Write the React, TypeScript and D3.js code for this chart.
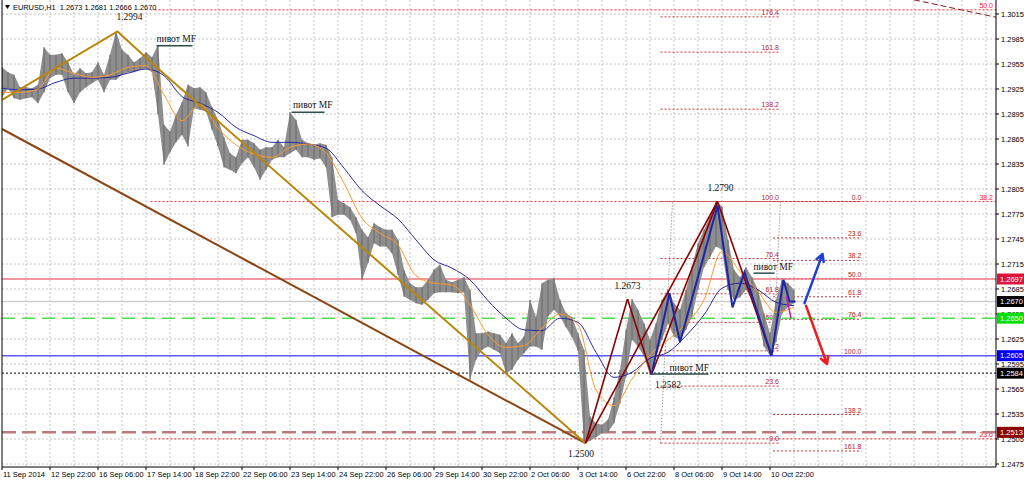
import React from 'react';
import * as d3 from 'd3';

// ---------- DATA ----------
const SAMPLE_STEP = 4; // H1 bars per sample
const MA_STEP = 12; // H1 bars per MA sample
const TIME_TICK_STEP = 32; // H1 bars between time labels

const barHigh = [
  1.2951, 1.2945, 1.2942, 1.2927, 1.2927, 1.2926, 1.293, 1.2975, 1.2966, 1.2966,
  1.2968, 1.2957, 1.2942, 1.295, 1.2944, 1.2945, 1.2957, 1.2942, 1.2966, 1.2994,
  1.2972, 1.2966, 1.2957, 1.2962, 1.2969, 1.2963, 1.2978, 1.2882, 1.2874, 1.2894,
  1.2909, 1.293, 1.2926, 1.2927, 1.2921,
  1.2903, 1.2888, 1.2867, 1.2848, 1.2843, 1.2864, 1.2864, 1.286, 1.2852, 1.2855,
  1.2855, 1.2864, 1.2855, 1.2897, 1.2888, 1.2864, 1.286, 1.2858, 1.286, 1.2858,
  1.2843, 1.2792, 1.2788, 1.2783, 1.2771, 1.2756, 1.2747, 1.2764, 1.2759, 1.2756,
  1.2756,
  1.2744, 1.2708, 1.2692, 1.2687, 1.2687, 1.2696, 1.2708, 1.2714, 1.2696, 1.2693,
  1.2696, 1.2699, 1.2684, 1.2632, 1.2632, 1.2634, 1.2632, 1.263, 1.262, 1.2632,
  1.262, 1.2628, 1.2672, 1.2651, 1.2692, 1.2696, 1.2698, 1.2672, 1.2656, 1.2651,
  1.2632, 1.2612, 1.2532,
  1.2524, 1.2522, 1.2528, 1.2555, 1.2588, 1.2636, 1.2673, 1.266, 1.2644, 1.2624,
  1.2644, 1.2672, 1.2684, 1.2668, 1.266, 1.2684, 1.2712, 1.274, 1.2756, 1.2772,
  1.279, 1.2784, 1.2744, 1.2708, 1.2699, 1.2711, 1.2699, 1.2684, 1.2656, 1.2632,
  1.2672, 1.2696, 1.2692, 1.2684,
];
const barLow = [
  1.2915, 1.2926, 1.2914, 1.2912, 1.2914, 1.2915, 1.2908, 1.2921, 1.2938, 1.2942,
  1.2942, 1.2921, 1.2908, 1.2921, 1.2927, 1.2932, 1.2936, 1.2921, 1.2936, 1.2936,
  1.2942, 1.2945, 1.2945, 1.2948, 1.295, 1.2945, 1.2894, 1.2834, 1.2849, 1.2861,
  1.287, 1.2856, 1.2902, 1.29, 1.2898,
  1.2876, 1.2856, 1.2831, 1.2828, 1.2824, 1.2836, 1.2843, 1.2831, 1.2816, 1.2828,
  1.284, 1.2843, 1.2843, 1.2848, 1.2852, 1.2843, 1.2843, 1.284, 1.2842, 1.2831,
  1.2771, 1.2774, 1.2774, 1.2768, 1.2752, 1.2696, 1.2716, 1.274, 1.2736, 1.2736,
  1.2728,
  1.2702, 1.2676, 1.2672, 1.2668, 1.2666, 1.2672, 1.268, 1.2681, 1.2681, 1.2681,
  1.268, 1.2681, 1.2576, 1.26, 1.2612, 1.2616, 1.2612, 1.2608, 1.2584, 1.2588,
  1.26, 1.2608, 1.2616, 1.2616, 1.2612, 1.2652, 1.266, 1.2652, 1.2639, 1.2627,
  1.2611, 1.25, 1.2503,
  1.2507, 1.2512, 1.2513, 1.2524, 1.2548, 1.258, 1.2624, 1.2616, 1.2604, 1.2582,
  1.2604, 1.2624, 1.2644, 1.2628, 1.2624, 1.2636, 1.2652, 1.2684, 1.2711, 1.2723,
  1.2736, 1.2732, 1.2684, 1.2672, 1.2675, 1.2684, 1.2672, 1.2648, 1.2616, 1.2605,
  1.2621, 1.2656, 1.2663, 1.2668,
];

const maFast = [
  1.2921, 1.2921, 1.2925, 1.295, 1.2944, 1.2939, 1.2942, 1.2951, 1.2953, 1.2918,
  1.2887, 1.2907, 1.2878, 1.2858, 1.2847, 1.2843, 1.2855, 1.2859, 1.2848, 1.2812,
  1.277, 1.2752, 1.2738, 1.2701, 1.2692, 1.269, 1.2666, 1.263, 1.2615, 1.2617,
  1.2638, 1.2655, 1.2642, 1.2564, 1.2545, 1.2577, 1.2606, 1.2624, 1.2643, 1.2672,
  1.273, 1.2706, 1.2682, 1.2657, 1.2663,
];
const maSlow = [
  1.2926, 1.2924, 1.2925, 1.2933, 1.2938, 1.2938, 1.2939, 1.2944, 1.2949, 1.2941,
  1.2916, 1.2908, 1.2897, 1.2879, 1.2869, 1.2861, 1.2861, 1.2859, 1.2854, 1.283,
  1.2803, 1.2785, 1.2769, 1.2744, 1.272, 1.271, 1.2696, 1.2671, 1.265, 1.2636,
  1.2635, 1.265, 1.2645, 1.2609, 1.2579, 1.2585, 1.2602, 1.2609, 1.2629, 1.2654,
  1.2686, 1.2692, 1.2684, 1.2669, 1.2665,
];

const priceTicks = [
  '1.3015', '1.2985', '1.2955', '1.2925', '1.2895', '1.2865', '1.2835', '1.2805',
  '1.2775', '1.2745', '1.2715', '1.2685', '1.2655', '1.2625', '1.2595', '1.2565',
  '1.2535', '1.2505', '1.2475',
];
const timeTicks = [
  '11 Sep 2014', '12 Sep 22:00', '16 Sep 06:00', '17 Sep 14:00', '18 Sep 22:00',
  '22 Sep 06:00', '23 Sep 14:00', '24 Sep 22:00', '26 Sep 06:00', '29 Sep 14:00',
  '30 Sep 22:00', '2 Oct 06:00', '3 Oct 14:00', '6 Oct 22:00', '8 Oct 06:00',
  '9 Oct 14:00', '10 Oct 22:00',
];

// [bar index, price]
const goldPath = [[0, 1.2912], [77, 1.2994], [103, 1.2951], [389, 1.25]];
const brownPath = [[0, 1.2877], [389, 1.25]];
const swings: Record<string, number[]> = {
  L0: [389, 1.25], H1: [417, 1.2673], L1: [433, 1.2582], H2: [477, 1.279], L2: [513, 1.2605],
};
const redLegs = [['L0', 'H1'], ['H1', 'L1'], ['L1', 'H2'], ['L0', 'H2'], ['H2', 'L2']];
const blueWave = [
  [433, 1.2582], [445, 1.268], [452, 1.2621], [477, 1.2785], [487, 1.2663],
  [495, 1.2705], [513, 1.2605], [521, 1.2696], [525, 1.267], [529, 1.267],
];
const magentaLeg = [[523, 1.2676], [526, 1.265]];
const upArrow = [[535, 1.2668], [547, 1.2727]];
const downArrow = [[536, 1.2665], [550, 1.2595]];

const levelPrices = [1.2697, 1.267, 1.265, 1.2605, 1.2584, 1.2513];

const fibRatios = [0, 23.6, 38.2, 50, 61.8, 76.4, 100, 138.2, 161.8, 176.4];
const fibA = { p0: 1.2045, p100: 1.3995, from: 99, to: 700 };
const fibB = { p0: 1.25, p100: 1.279, from: 439, to: 518 };
const fibC = { p0: 1.279, p100: 1.2605, from: 514, to: 573 };
const fibATrend = [[608, 1.3032], [663, 1.3011]];
const fibBTrend = [[439, 1.25], [447, 1.279]];
const fibCTrend = [[519, 1.279], [514, 1.2605]];

const priceNotes: [string, number, number][] = [
  ['1.2994', 85, 1.3008], ['1.2673', 417, 1.2685], ['1.2582', 444, 1.2566],
  ['1.2790', 479, 1.2803], ['1.2500', 386, 1.2483],
];
const pivotNoteText = 'пивот MF';
// text index, text price, underline from, underline to, underline price
const pivotNotes = [
  [103, 1.2981, 103, 127, 1.2977],
  [194, 1.2902, 193, 215, 1.2897],
  [501, 1.2708, 501, 515, 1.2704],
  [445, 1.2587, 433, 471, 1.2583],
];

const titleText = 'EURUSD,H1  1.2673 1.2681 1.2666 1.2670';

// ---------- CHART ----------
export default function App() {
  const L = 2, R = 996, T = 0, B = 467;
  const x = d3.scaleLinear().domain([0, TIME_TICK_STEP]).range([2, 50]);
  const y = d3.scaleLinear().domain([1.2475, 1.3015]).range([464, 14]);
  const iMax = x.invert(R);

  const line = d3.line<number[]>().x((d) => x(d[0])).y((d) => y(d[1]));
  const samples = barHigh.map((h, j) => ({ i: j * SAMPLE_STEP, h, l: barLow[j] }));
  const band = d3.area<any>().x((d) => x(d.i)).y0((d) => y(d.l)).y1((d) => y(d.h));
  const maLine = d3.line<number>().x((_, k) => x(k * MA_STEP)).y((d) => y(d)).curve(d3.curveMonotoneX);

  const vGrid = d3.range(TIME_TICK_STEP / 2, iMax, TIME_TICK_STEP / 2);

  const levelStyles = [
    { stroke: '#ee7682', dash: undefined, w: 1.5, tag: '#dc143c' },
    { stroke: '#cfcfcf', dash: undefined, w: 1.5, tag: '#000000' },
    { stroke: '#4fe04f', dash: '13,7', w: 1.5, tag: '#00e000' },
    { stroke: '#5a5aff', dash: undefined, w: 1.5, tag: '#0000ff' },
    { stroke: '#333333', dash: '2,2', w: 1.2, tag: '#000000' },
    { stroke: '#bb7b7b', dash: '14,6', w: 2.5, tag: '#8b0000' },
  ];

  const arrowPath = (pts: number[][]) => {
    const x0 = x(pts[0][0]), y0 = y(pts[0][1]), x1 = x(pts[1][0]), y1 = y(pts[1][1]);
    const a = Math.atan2(y1 - y0, x1 - x0);
    const len = 8, sp = 0.5;
    const h1 = [x1 - len * Math.cos(a - sp), y1 - len * Math.sin(a - sp)];
    const h2 = [x1 - len * Math.cos(a + sp), y1 - len * Math.sin(a + sp)];
    return `M${x0},${y0}L${x1},${y1}M${h1[0]},${h1[1]}L${x1},${y1}L${h2[0]},${h2[1]}`;
  };

  const fibs = [
    { f: fibA, line: '#ff3030', label: '#ff2020', endX: R - 3 },
    { f: fibB, line: '#c83a3a', label: '#b02828', endX: null },
    { f: fibC, line: '#c83a3a', label: '#b02828', endX: null },
  ];

  return (
    <svg width={1024} height={482} style={{ position: 'absolute', left: 0, top: 0, background: '#fff' }}
      fontFamily="'Liberation Sans', Arial, sans-serif">
      <defs>
        <clipPath id="plot"><rect x={L} y={T} width={R - L} height={B - T} /></clipPath>
      </defs>
      <rect x={0} y={0} width={1024} height={482} fill="#ffffff" />
      <g clipPath="url(#plot)">
        {/* grid */}
        {vGrid.map((i) => (
          <line key={'vg' + i} x1={x(i)} x2={x(i)} y1={T} y2={B} stroke="#c4c4c4" strokeDasharray="2,2" />
        ))}
        {priceTicks.map((t) => (
          <line key={'hg' + t} x1={L} x2={R} y1={y(+t)} y2={y(+t)} stroke="#c4c4c4" strokeDasharray="2,2" />
        ))}

        {/* fibonacci levels */}
        {fibs.map(({ f, line: lc, label, endX }, fi) => {
          const x0 = x(f.from), x1 = Math.min(x(f.to), R);
          return (
            <g key={'fib' + fi}>
              {fibRatios.map((r) => {
                const py = y(f.p0 + (f.p100 - f.p0) * r / 100);
                if (py < T - 2 || py > B + 2) return null;
                return (
                  <g key={r}>
                    <line x1={x0} x2={x1} y1={py} y2={py} stroke={lc} strokeDasharray="2,2" strokeWidth={1} />
                    {py > T + 7 && py < B - 2 ? (
                      <text x={endX ?? x1} y={py - 2} textAnchor="end" fontSize={7} fill={label}>{r.toFixed(1)}</text>
                    ) : null}
                  </g>
                );
              })}
            </g>
          );
        })}
        <path d={line(fibATrend as any) || ''} stroke="#8b1a1a" strokeWidth={1} strokeDasharray="6,3" fill="none" />
        <path d={line(fibBTrend as any) || ''} stroke="#777" strokeWidth={1} strokeDasharray="1,2" fill="none" />
        <path d={line(fibCTrend as any) || ''} stroke="#777" strokeWidth={1} strokeDasharray="1,2" fill="none" />

        {/* horizontal levels */}
        {levelPrices.map((p, k) => (
          <line key={'lv' + p} x1={L} x2={R} y1={y(p)} y2={y(p)} stroke={levelStyles[k].stroke}
            strokeWidth={levelStyles[k].w} strokeDasharray={levelStyles[k].dash} />
        ))}

        {/* price bars */}
        <path d={band(samples) || ''} fill="#8e8e8e" />
        {samples.map((s) => (
          <line key={'b' + s.i} x1={x(s.i)} x2={x(s.i)} y1={y(s.h)} y2={y(s.l)} stroke="#707070" strokeWidth={1.2} />
        ))}

        {/* moving averages */}
        <path d={maLine(maSlow) || ''} fill="none" stroke="#2a2aa0" strokeWidth={1} />
        <path d={maLine(maFast) || ''} fill="none" stroke="#ff9a2a" strokeWidth={1} />

        {/* wave lines */}
        <path d={line(brownPath as any) || ''} fill="none" stroke="#8b4513" strokeWidth={2} />
        <path d={line(goldPath as any) || ''} fill="none" stroke="#b8860b" strokeWidth={2} />
        {redLegs.map(([a, b]) => (
          <path key={a + b} d={line([swings[a], swings[b]]) || ''} fill="none" stroke="#8b0000" strokeWidth={1.6} />
        ))}
        <path d={line(blueWave as any) || ''} fill="none" stroke="#1c24a8" strokeWidth={2} />
        <path d={line(magentaLeg as any) || ''} fill="none" stroke="#d010c0" strokeWidth={1.5} />

        {/* pivot notes */}
        {pivotNotes.map(([ti, tp, u0, u1, up], k) => (
          <g key={'pn' + k}>
            <line x1={x(u0)} x2={x(u1)} y1={y(up)} y2={y(up)} stroke="#2f4f4f" strokeWidth={1.5} />
            <text x={x(ti)} y={y(tp)} fontSize={9.5} fontFamily="'Liberation Serif', 'Times New Roman', serif" fill="#111">{pivotNoteText}</text>
          </g>
        ))}
        {priceNotes.map(([t, i, p]) => (
          <text key={'n' + t} x={x(i)} y={y(p)} textAnchor="middle" fontSize={9.5}
            fontFamily="'Liberation Serif', 'Times New Roman', serif" fill="#111">{t}</text>
        ))}

        {/* arrows */}
        <path d={arrowPath(upArrow)} fill="none" stroke="#2040d0" strokeWidth={2.5} strokeLinecap="round" strokeLinejoin="round" />
        <path d={arrowPath(downArrow)} fill="none" stroke="#ee1c1c" strokeWidth={2.5} strokeLinecap="round" strokeLinejoin="round" />
      </g>

      {/* title */}
      <path d="M5,5 L10,5 L7.5,9 Z" fill="#000" />
      <text x={13} y={10} fontSize={7.4} fill="#000" style={{ whiteSpace: 'pre' }}>{titleText}</text>

      {/* frame */}
      <line x1={L} x2={L} y1={T} y2={B} stroke="#000" />
      <line x1={R} x2={R} y1={T} y2={B} stroke="#000" />
      <line x1={L} x2={R} y1={B} y2={B} stroke="#000" />

      {/* right axis */}
      {priceTicks.map((t) => (
        <g key={'pt' + t}>
          <line x1={R} x2={R + 3} y1={y(+t)} y2={y(+t)} stroke="#000" />
          <text x={1001} y={y(+t)} dy="0.35em" fontSize={7.5} fill="#000">{t}</text>
        </g>
      ))}
      {levelPrices.map((p, k) => (
        <g key={'tag' + p}>
          <rect x={R + 1} y={y(p) - 5.5} width={1024 - R - 1} height={11} fill={levelStyles[k].tag} />
          <text x={1000} y={y(p)} dy="0.35em" fontSize={7.5} fill="#fff">{p.toFixed(4)}</text>
        </g>
      ))}

      {/* bottom axis */}
      {timeTicks.map((t, k) => (
        <g key={'tt' + t}>
          <line x1={x(k * TIME_TICK_STEP)} x2={x(k * TIME_TICK_STEP)} y1={B} y2={B + 3} stroke="#000" />
          <text x={x(k * TIME_TICK_STEP) + 1} y={477} fontSize={7.5} fill="#000">{t}</text>
        </g>
      ))}
    </svg>
  );
}
